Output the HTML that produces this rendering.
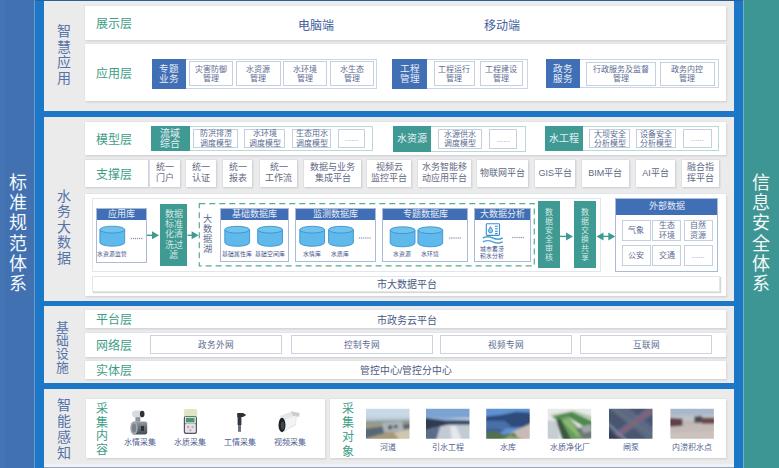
<!DOCTYPE html><html lang="zh-CN"><head><meta charset="utf-8"><style>
*{margin:0;padding:0;box-sizing:border-box}
html,body{width:779px;height:468px;overflow:hidden;background:#1c78c6}
body{position:relative;font-family:"Liberation Sans",sans-serif}
div{position:absolute;white-space:nowrap}
svg{position:absolute;left:0;top:0}
.c{display:flex;align-items:center;justify-content:center;text-align:center}
.wb{background:#fff;box-shadow:0 0 0 0.6px #dcdfe5,1px 1.5px 1.5px rgba(110,120,140,.28)}
.lay{color:#3a9a84;font-size:12px;line-height:12px}
.it{border:1px solid #c5cfe0;color:#5b6b92;font-size:8px;line-height:9px;background:#fff}
.sb{background:#fff;box-shadow:0 0 0 0.6px #d6dae3,1px 1px 1.5px rgba(110,120,140,.35);color:#5f6984;font-size:9px;line-height:11px;top:160.3px;height:26.4px}
.db{border:1px solid #a9bbd8;background:#fff}
.dbh{left:0;top:0;right:0;height:11px;background:#416fb5;color:#e6ecf7;font-size:9px;line-height:11px;text-align:center}
.sm{font-size:5.8px;line-height:7px;color:#3f5088;text-align:center}
.dots{color:#8090a8;font-size:9px;line-height:9px;letter-spacing:-1px}
.tc{background:#3e9a92;color:#e4f0ee;text-align:center;white-space:normal}
.net{top:335.5px;height:18.5px;border:1px solid #ccd2de;background:#fff;color:#5a6a90;font-size:8.6px;line-height:18px;text-align:center}
.ph{top:408.5px;width:43.5px;height:30px}
.pl{font-size:8px;line-height:9px;color:#4f6090;text-align:center;width:60px}
.vt{text-align:center;white-space:normal;word-break:break-all}
</style></head><body>
<div class="" style="left:0px;top:0px;width:34.3px;height:468px;background:#4171b1"></div>
<div class="" style="left:0px;top:0px;width:5px;height:468px;background:#4474b4"></div>
<div class="" style="left:34px;top:0px;width:1.2px;height:468px;background:#6a9ad0"></div>
<div class="vt" style="left:7.00px;top:173.25px;width:22px;font-size:18px;line-height:20.1px;color:#f4f7fb;">标<br>准<br>规<br>范<br>体<br>系</div>
<div class="" style="left:743px;top:0px;width:36px;height:468px;background:#3e9694"></div>
<div class="" style="left:743px;top:0px;width:1px;height:468px;background:#6fb3c0"></div>
<div class="vt" style="left:749.50px;top:173.25px;width:22px;font-size:18px;line-height:20.1px;color:#f4f9f8;">信<br>息<br>安<br>全<br>体<br>系</div>
<div class="" style="left:35px;top:0px;width:708px;height:1px;background:#2b5f95"></div>
<div class="" style="left:43.8px;top:1px;width:690.5px;height:109.7px;background:#ecebec"></div>
<div class="" style="left:43.8px;top:116.6px;width:690.5px;height:184.9px;background:#ecebec"></div>
<div class="" style="left:43.8px;top:306.2px;width:690.5px;height:76.80000000000001px;background:#ecebec"></div>
<div class="" style="left:43.8px;top:389px;width:690.5px;height:74.5px;background:#ecebec"></div>
<div class="" style="left:43.8px;top:463.5px;width:690.5px;height:3.5px;background:#eef2f6"></div>
<div class="" style="left:43.8px;top:467px;width:690.5px;height:1px;background:#9aa4b0"></div>
<div class="vt" style="left:55.00px;top:24.30px;width:18px;font-size:14px;line-height:15.6px;color:#5473a8;">智<br>慧<br>应<br>用</div>
<div class="vt" style="left:55.30px;top:188.50px;width:18px;font-size:14px;line-height:15.6px;color:#5473a8;">水<br>务<br>大<br>数<br>据</div>
<div class="vt" style="left:53.90px;top:320.75px;width:16.8px;font-size:12.8px;line-height:13.3px;color:#5473a8;">基<br>础<br>设<br>施</div>
<div class="vt" style="left:54.80px;top:398.45px;width:18px;font-size:14px;line-height:15.7px;color:#5473a8;">智<br>能<br>感<br>知</div>
<div class="wb" style="left:85px;top:6.4px;width:640.5px;height:33.3px;"></div>
<div style="left:96.2px;top:18.10px;font-size:12px;line-height:12px;color:#3d9d86;">展示层</div>
<div style="left:298.4px;top:19.50px;font-size:12px;line-height:12px;color:#42609e;">电脑端</div>
<div style="left:483.6px;top:19.50px;font-size:12px;line-height:12px;color:#42609e;">移动端</div>
<div class="wb" style="left:85px;top:43.6px;width:640.5px;height:57.8px;"></div>
<div style="left:96.2px;top:67.70px;font-size:12px;line-height:12px;color:#3d9d86;">应用层</div>
<div class="" style="left:151.8px;top:58.8px;width:225px;height:29.8px;border:1px solid #c9d5e8;background:#fff"></div>
<div class="c" style="left:151.8px;top:58.8px;width:34.6px;height:29.8px;background:#416fb5;color:#e8eef8;font-size:9.6px;line-height:9.8px">专题<br>业务</div>
<div class="it c" style="left:189.1px;top:61.1px;width:43.5px;height:25.3px;">灾害防御<br>管理</div>
<div class="it c" style="left:236.2px;top:61.1px;width:44.5px;height:25.3px;">水资源<br>管理</div>
<div class="it c" style="left:283.2px;top:61.1px;width:44.3px;height:25.3px;">水环境<br>管理</div>
<div class="it c" style="left:330.2px;top:61.1px;width:44.2px;height:25.3px;">水生态<br>管理</div>
<div class="" style="left:392.3px;top:58.8px;width:136px;height:29.8px;border:1px solid #c9d5e8;background:#fff"></div>
<div class="c" style="left:392.3px;top:58.8px;width:34.5px;height:29.8px;background:#416fb5;color:#e8eef8;font-size:9.6px;line-height:9.8px">工程<br>管理</div>
<div class="it c" style="left:433.8px;top:61.3px;width:41.1px;height:25.2px;">工程运行<br>管理</div>
<div class="it c" style="left:479.6px;top:61.3px;width:43.7px;height:25.2px;">工程建设<br>管理</div>
<div class="" style="left:545.8px;top:58.6px;width:172.8px;height:29.9px;border:1px solid #c9d5e8;background:#fff"></div>
<div class="c" style="left:545.8px;top:58.6px;width:34.2px;height:29.9px;background:#416fb5;color:#e8eef8;font-size:9.6px;line-height:9.8px">政务<br>服务</div>
<div class="it c" style="left:586.3px;top:61.5px;width:69.4px;height:24.5px;">行政服务及监督<br>管理</div>
<div class="it c" style="left:660.3px;top:61.5px;width:54.4px;height:24.5px;">政务内控<br>管理</div>
<div class="wb" style="left:85px;top:122.3px;width:640.5px;height:32.7px;"></div>
<div style="left:96.2px;top:133.50px;font-size:12px;line-height:12px;color:#3d9d86;">模型层</div>
<div class="" style="left:151.2px;top:125.8px;width:221.8px;height:25.6px;border:1px solid #b9dad4;background:#fff"></div>
<div class="c" style="left:151.2px;top:125.8px;width:38.5px;height:25.6px;background:#3e9a92;color:#e8eef8;font-size:10px;line-height:10px">流域<br>综合</div>
<div class="it c" style="left:193.4px;top:128.9px;width:44.6px;height:19.4px;line-height:9.2px">防洪排涝<br>调度模型</div>
<div class="it c" style="left:244.2px;top:128.9px;width:41px;height:19.4px;line-height:9.2px">水环境<br>调度模型</div>
<div class="it c" style="left:292.3px;top:128.9px;width:38.5px;height:19.4px;line-height:9.2px">生态用水<br>调度模型</div>
<div class="it c" style="left:337.5px;top:128.9px;width:27.8px;height:19.4px;color:#8898b0">......</div>
<div class="" style="left:392.5px;top:125.8px;width:133.5px;height:26.2px;border:1px solid #b9dad4;background:#fff"></div>
<div class="c" style="left:392.5px;top:125.8px;width:38.5px;height:26.2px;background:#3e9a92;color:#e8eef8;font-size:10px;line-height:10px">水资源</div>
<div class="it c" style="left:437.9px;top:129px;width:44.4px;height:20px;line-height:9.2px">水源供水<br>调度模型</div>
<div class="it c" style="left:489.2px;top:129px;width:28.3px;height:20px;color:#8898b0">......</div>
<div class="" style="left:544.8px;top:125.8px;width:173.8px;height:25.7px;border:1px solid #b9dad4;background:#fff"></div>
<div class="c" style="left:544.8px;top:125.8px;width:38.2px;height:25.7px;background:#3e9a92;color:#e8eef8;font-size:10px;line-height:10px">水工程</div>
<div class="it c" style="left:589px;top:129px;width:41px;height:19.4px;line-height:9.2px">大坝安全<br>分析模型</div>
<div class="it c" style="left:636px;top:129px;width:40.2px;height:19.4px;line-height:9.2px">设备安全<br>分析模型</div>
<div class="it c" style="left:682.6px;top:129px;width:29.6px;height:19.4px;color:#8898b0">......</div>
<div class="sb" style="left:84.6px;top:160.3px;width:63.8px;height:26.4px;"></div>
<div style="left:96.2px;top:168.50px;font-size:12px;line-height:12px;color:#3d9d86;">支撑层</div>
<div class="sb c" style="left:150.3px;top:160.3px;width:29.6px;height:26.4px;">统一<br>门户</div>
<div class="sb c" style="left:186.4px;top:160.3px;width:30px;height:26.4px;">统一<br>认证</div>
<div class="sb c" style="left:223.3px;top:160.3px;width:29.2px;height:26.4px;">统一<br>报表</div>
<div class="sb c" style="left:260.2px;top:160.3px;width:37px;height:26.4px;">统一<br>工作流</div>
<div class="sb c" style="left:304.2px;top:160.3px;width:57px;height:26.4px;">数据与业务<br>集成平台</div>
<div class="sb c" style="left:367.4px;top:160.3px;width:44.1px;height:26.4px;">视频云<br>监控平台</div>
<div class="sb c" style="left:418.2px;top:160.3px;width:52.4px;height:26.4px;">水务智能移<br>动应用平台</div>
<div class="sb c" style="left:476.6px;top:160.3px;width:51.8px;height:26.4px;">物联网平台</div>
<div class="sb c" style="left:535.4px;top:160.3px;width:39.8px;height:26.4px;">GIS平台</div>
<div class="sb c" style="left:582px;top:160.3px;width:46.7px;height:26.4px;">BIM平台</div>
<div class="sb c" style="left:635.8px;top:160.3px;width:39.5px;height:26.4px;">AI平台</div>
<div class="sb c" style="left:682.4px;top:160.3px;width:36.7px;height:26.4px;">融合指<br>挥平台</div>
<div class="wb" style="left:85px;top:193.8px;width:641px;height:102px;"></div>
<div class="" style="left:91.6px;top:197.5px;width:509px;height:74px;border:1px solid #e2e6ec"></div>
<div class="" style="left:91.6px;top:275.6px;width:628px;height:16.3px;border:1px solid #e2e6ec;box-shadow:1px 1px 1px rgba(110,120,140,.3)"></div>
<div style="left:377px;top:280.00px;font-size:10px;line-height:10px;color:#4a5a80;">市大数据平台</div>
<div class="db" style="left:96px;top:208px;width:51px;height:54.7px;"><div class="dbh">应用库</div></div>
<div class="sm" style="left:96px;top:251px;width:32px">水资源监管</div>
<div class="db" style="left:220.1px;top:207.8px;width:69.2px;height:53.8px;"><div class="dbh">基础数据库</div></div>
<div class="db" style="left:295.1px;top:207.8px;width:81.1px;height:54px;"><div class="dbh">监测数据库</div></div>
<div class="db" style="left:382px;top:207.8px;width:86.1px;height:54.2px;"><div class="dbh">专题数据库</div></div>
<div class="db" style="left:473.7px;top:208.2px;width:57.3px;height:54px;"><div class="dbh">大数据分析</div></div>
<div class="sm" style="left:221px;top:250.5px;width:32px">基础属性库</div>
<div class="sm" style="left:253.8px;top:250.5px;width:32px">基础空间库</div>
<div class="sm" style="left:297.5px;top:250.5px;width:28px">水情库</div>
<div class="sm" style="left:326px;top:250.5px;width:28px">水质库</div>
<div class="sm" style="left:388px;top:250.5px;width:28px">水资源</div>
<div class="sm" style="left:416px;top:250.5px;width:28px">水环境</div>
<div class="sm" style="left:477px;top:246px;width:30px;line-height:7px">城市蓄涝<br>积水分析</div>
<div class="tc" style="left:160.2px;top:203.6px;width:27px;height:62.2px;font-size:9px;line-height:10.3px;padding-top:5.3px;color:#d4e8e4">数据<br>标准<br>化清<br>洗过<br>滤</div>
<div class="vt" style="left:200.70px;top:215.15px;width:13.2px;font-size:9.2px;line-height:9.9px;color:#5a6a8e;">大<br>数<br>据<br>湖</div>
<div class="tc" style="left:537.8px;top:200.8px;width:22.1px;height:67.6px;font-size:8px;line-height:9.1px;padding-top:7px;color:#d4e8e4">数<br>据<br>安<br>全<br>审<br>核</div>
<div class="tc" style="left:574.3px;top:200.8px;width:22px;height:67.6px;font-size:8px;line-height:9.1px;padding-top:7px;color:#d4e8e4">数<br>据<br>交<br>换<br>共<br>享</div>
<div class="db" style="left:615.3px;top:198px;width:103.2px;height:74.2px;"><div class="dbh" style="height:15.5px;line-height:15.5px;font-size:9px">外部数据</div></div>
<div class="it c" style="left:621.5px;top:220.2px;width:29px;height:20.7px;font-size:8px;">气象</div>
<div class="it c" style="left:652.2px;top:220.2px;width:29px;height:20.7px;font-size:8px;line-height:9.2px">生态<br>环境</div>
<div class="it c" style="left:683.5px;top:220.2px;width:29px;height:20.7px;font-size:8px;line-height:9.2px">自然<br>资源</div>
<div class="it c" style="left:621.5px;top:245.3px;width:29px;height:20.7px;font-size:8px;">公安</div>
<div class="it c" style="left:652.2px;top:245.3px;width:29px;height:20.7px;font-size:8px;">交通</div>
<div class="it c" style="left:683.5px;top:245.3px;width:29px;height:20.7px;font-size:8px;color:#8898b0">......</div>
<svg width="779" height="468" viewBox="0 0 779 468"><defs><g id="cy"><path d="M0.6,4 L0.6,16.8 A12.4,3.8 0 0 0 25.4,16.8 L25.4,4" fill="#5fb9eb" stroke="#3d92cc" stroke-width="0.9"/><ellipse cx="13" cy="4" rx="12.4" ry="3.4" fill="#70c3ef" stroke="#3d92cc" stroke-width="0.9"/></g><path id="ah" d="M0,-4 L7,0 L0,4 Z"/></defs><use href="#cy" x="99.3" y="225.6"/><use href="#cy" x="224.2" y="225.7"/><use href="#cy" x="257.1" y="225.7"/><use href="#cy" x="299.2" y="225.7"/><use href="#cy" x="328" y="225.7"/><use href="#cy" x="389.6" y="226.2"/><use href="#cy" x="417.3" y="226.2"/><g fill="#3e9a92" stroke="#3e9a92"><line x1="147" y1="235.3" x2="153" y2="235.3" stroke-width="1.4"/><use href="#ah" x="152" y="235.3" stroke="none"/><line x1="187.5" y1="235.3" x2="193" y2="235.3" stroke-width="1.4"/><use href="#ah" x="191.6" y="235.3" stroke="none"/><line x1="560" y1="236.4" x2="567" y2="236.4" stroke-width="1.4"/><use href="#ah" x="566" y="236.4" stroke="none"/><line x1="602" y1="236.4" x2="609" y2="236.4" stroke-width="1.4"/><use href="#ah" x="608.3" y="236.4" stroke="none"/><path d="M596.5,236.4 L603.5,232.4 L603.5,240.4 Z" stroke="none"/></g><rect x="199.3" y="203.6" width="335" height="62.3" fill="none" stroke="#52ad94" stroke-width="1.2" stroke-dasharray="6 4"/><g fill="none" stroke="#3c8fcb" stroke-width="1.1"><rect x="486.3" y="223.8" width="13.2" height="11.6" rx="0.8"/><path d="M490.5,226.6 Q492.6,229.6 492.6,230.8 A2.1,2.1 0 0 1 488.4,230.8 Q488.4,229.6 490.5,226.6Z" fill="#8fcbee" stroke-width="0.9"/><line x1="495" y1="226.3" x2="497.8" y2="226.3"/><line x1="495" y1="228.8" x2="497.8" y2="228.8"/><line x1="495" y1="231.3" x2="497.8" y2="231.3"/><line x1="495" y1="233.6" x2="497.8" y2="233.6"/></g><g fill="none" stroke="#4aa6dc" stroke-width="1.4"><path d="M482.8,238 Q487.8,235.6 492.8,238 T502.8,238"/><path d="M482.8,241.8 Q487.8,239.4 492.8,241.8 T502.8,241.8"/></g><circle cx="131.30" cy="238.5" r="0.65" fill="#7d8ca6"/><circle cx="133.40" cy="238.5" r="0.65" fill="#7d8ca6"/><circle cx="135.50" cy="238.5" r="0.65" fill="#7d8ca6"/><circle cx="137.60" cy="238.5" r="0.65" fill="#7d8ca6"/><circle cx="139.70" cy="238.5" r="0.65" fill="#7d8ca6"/><circle cx="141.80" cy="238.5" r="0.65" fill="#7d8ca6"/><circle cx="359.60" cy="238" r="0.65" fill="#7d8ca6"/><circle cx="361.70" cy="238" r="0.65" fill="#7d8ca6"/><circle cx="363.80" cy="238" r="0.65" fill="#7d8ca6"/><circle cx="365.90" cy="238" r="0.65" fill="#7d8ca6"/><circle cx="368.00" cy="238" r="0.65" fill="#7d8ca6"/><circle cx="370.10" cy="238" r="0.65" fill="#7d8ca6"/><circle cx="449.80" cy="238" r="0.65" fill="#7d8ca6"/><circle cx="451.90" cy="238" r="0.65" fill="#7d8ca6"/><circle cx="454.00" cy="238" r="0.65" fill="#7d8ca6"/><circle cx="456.10" cy="238" r="0.65" fill="#7d8ca6"/><circle cx="458.20" cy="238" r="0.65" fill="#7d8ca6"/><circle cx="460.30" cy="238" r="0.65" fill="#7d8ca6"/><circle cx="512.80" cy="237.5" r="0.65" fill="#7d8ca6"/><circle cx="514.90" cy="237.5" r="0.65" fill="#7d8ca6"/><circle cx="517.00" cy="237.5" r="0.65" fill="#7d8ca6"/><circle cx="519.10" cy="237.5" r="0.65" fill="#7d8ca6"/><circle cx="521.20" cy="237.5" r="0.65" fill="#7d8ca6"/><circle cx="523.30" cy="237.5" r="0.65" fill="#7d8ca6"/></svg>
<div class="wb" style="left:85px;top:309.7px;width:641px;height:18.2px;"></div>
<div style="left:96.2px;top:313.50px;font-size:12px;line-height:12px;color:#3d9d86;">平台层</div>
<div style="left:377px;top:315.70px;font-size:10px;line-height:10px;color:#4a5a80;">市政务云平台</div>
<div class="wb" style="left:85px;top:332.7px;width:641px;height:24.3px;"></div>
<div style="left:96.2px;top:339.50px;font-size:12px;line-height:12px;color:#3d9d86;">网络层</div>
<div class="net" style="left:150px;top:335.4px;width:132.2px;height:18.5px;">政务外网</div>
<div class="net" style="left:290.6px;top:335.4px;width:142.6px;height:18.5px;">控制专网</div>
<div class="net" style="left:440.3px;top:335.4px;width:131.6px;height:18.5px;">视频专网</div>
<div class="net" style="left:580.4px;top:335.4px;width:131.6px;height:18.5px;">互联网</div>
<div class="wb" style="left:85px;top:360.8px;width:641px;height:18.5px;"></div>
<div style="left:96.2px;top:364.80px;font-size:12px;line-height:12px;color:#3d9d86;">实体层</div>
<div style="left:359.5px;top:365.80px;font-size:9.8px;line-height:9.8px;color:#4a5a80;">管控中心/管控分中心</div>
<div class="wb" style="left:85.6px;top:398.9px;width:239.6px;height:59px;"></div>
<div class="vt" style="left:94.00px;top:403.30px;width:16px;font-size:12px;line-height:13.6px;color:#3d9d86;">采<br>集<br>内<br>容</div>
<div class="wb" style="left:330.4px;top:399px;width:395.8px;height:59px;"></div>
<div class="vt" style="left:339.50px;top:402.25px;width:16px;font-size:12px;line-height:14.1px;color:#3d9d86;">采<br>集<br>对<br>象</div>
<div class="pl" style="left:110.1px;top:438.2px">水情采集</div>
<div class="pl" style="left:159.6px;top:438.2px">水质采集</div>
<div class="pl" style="left:209.7px;top:438.2px">工情采集</div>
<div class="pl" style="left:259.7px;top:438.2px">视频采集</div>
<svg width="779" height="468" viewBox="0 0 779 468"><defs><filter id="bl" x="-20%" y="-20%" width="140%" height="140%"><feGaussianBlur stdDeviation="0.45"/></filter><filter id="bl2" x="-10%" y="-10%" width="120%" height="120%"><feGaussianBlur stdDeviation="1"/></filter><linearGradient id="gm" x1="0" y1="0" x2="0" y2="1"><stop offset="0" stop-color="#9aa0a8"/><stop offset="0.45" stop-color="#6a7078"/><stop offset="1" stop-color="#4a5058"/></linearGradient></defs><g filter="url(#bl)"><rect x="132" y="410.5" width="12.3" height="7" rx="3.5" fill="#d8dce0"/><ellipse cx="142.2" cy="414" rx="2.3" ry="3.3" fill="#2e3238"/><rect x="135.4" y="417.2" width="4.9" height="4.5" fill="#8d939a"/><rect x="132" y="421.5" width="15.2" height="13" rx="2" fill="url(#gm)"/><ellipse cx="134" cy="428" rx="3.8" ry="6.6" fill="#a4aab1"/><ellipse cx="134" cy="428" rx="2.2" ry="4.6" fill="#7c828a"/><rect x="141" y="426" width="3" height="5" fill="#2e3238"/><rect x="183.8" y="408.9" width="13.5" height="8" rx="2" fill="#e2e4c4"/><rect x="183.8" y="416" width="13.2" height="18" rx="2" fill="#4f565e"/><rect x="185" y="416.8" width="10.8" height="6.6" fill="#f2f4f2"/><rect x="185.8" y="417.8" width="8.8" height="4.6" fill="#4a9a6c"/><rect x="185" y="423.5" width="10.8" height="9.3" rx="1.5" fill="#e4e2ea"/><circle cx="188.2" cy="427" r="1.2" fill="#d49aa6"/><circle cx="192.6" cy="427" r="1.2" fill="#b6b8c4"/><circle cx="190.4" cy="430.3" r="1.1" fill="#c9a0aa"/><path d="M237.2,412.9 L243,412.9 L246.3,415 L243,417 L237.2,417 Z" fill="#2c3038"/><rect x="237.6" y="417" width="3.8" height="8" fill="#343842"/><rect x="238" y="425" width="3" height="6.8" fill="#6a707a"/><path d="M280,416 L291.5,411.5 L297,413.5 L296,425 L284,432 Z" fill="#e4e6e8"/><path d="M291,411.3 L299.6,413 L299,416.7 L293,416 Z" fill="#c9cdd2"/><path d="M284,420 L295.5,415.5 L295.5,424 L285,430.5 Z" fill="#f2f3f4"/><ellipse cx="282" cy="425" rx="3.5" ry="7.2" fill="#1f2328"/><ellipse cx="282.6" cy="425.5" rx="1.8" ry="4" fill="#40454c"/></g><svg x="366" y="408.8" width="43.5" height="30" viewBox="0 0 43.5 30" overflow="hidden"><g filter="url(#bl2)"><rect x="-2" y="-2" width="48" height="34" fill="#bccddb"/><rect x="-2" y="-2" width="48" height="10" fill="#c9d8e6"/><path d="M-2,12 L46,11 L46,17 L-2,18 Z" fill="#8e9a98"/><path d="M-2,16 L46,14 L46,32 L-2,32 Z" fill="#a69a78"/><path d="M-2,20 L30,16 L46,15 L46,19 L20,24 L-2,30 Z" fill="#56687a"/><path d="M16,14 L36,12 L38,22 L18,24 Z" fill="#aab4b8"/><path d="M22,17 L26,16.5 L26.5,20 L22.5,21 Z" fill="#4a5660"/><path d="M28,16.5 L31,16 L31.5,19 L28.5,19.5 Z" fill="#3a444c"/><path d="M28,24 L46,20 L46,32 L34,32 Z" fill="#cfc6b0"/></g></svg><svg x="426" y="408.8" width="43.5" height="30" viewBox="0 0 43.5 30" overflow="hidden"><g filter="url(#bl2)"><rect x="-2" y="-2" width="48" height="34" fill="#d2d8de"/><rect x="-2" y="-2" width="48" height="11" fill="#7aa2d2"/><path d="M-2,8 L46,11 L46,15 L-2,17 Z" fill="#8aaad0"/><path d="M-2,9 L20,12 L46,12 L46,16 L22,16 L-2,22 Z" fill="#2e3a52"/><path d="M-2,22 L22,16 L46,16 L46,32 L-2,32 Z" fill="#c2cad4"/><path d="M-2,22 L14,18 L10,32 L-2,32 Z" fill="#5a6c88"/><path d="M24,17 L30,17 L36,32 L26,32 Z" fill="#e4e8ec"/></g></svg><svg x="486.2" y="408.8" width="43.5" height="30" viewBox="0 0 43.5 30" overflow="hidden"><g filter="url(#bl2)"><rect x="-2" y="-2" width="48" height="34" fill="#5f92d2"/><path d="M-2,8 L16,6 L30,3 L46,4 L46,18 L-2,20 Z" fill="#2d4c7c"/><path d="M-2,12 L18,12 L26,18 L-2,22 Z" fill="#4a6ea8"/><path d="M12,30 L46,14 L46,32 Z" fill="#c9bab4"/><path d="M-2,20 L20,20 L10,26 L-2,26 Z" fill="#3c5e96"/><path d="M-2,24 L8,22 L18,26 L28,24 L34,32 L-2,32 Z" fill="#52704e"/><path d="M14,32 L24,26 L30,28 L40,32 Z" fill="#8aa070"/></g></svg><svg x="547.7" y="408.8" width="43.5" height="30" viewBox="0 0 43.5 30" overflow="hidden"><g filter="url(#bl2)"><rect x="-2" y="-2" width="48" height="34" fill="#e6eae8"/><path d="M2,6 L26,2 L46,8 L46,12 L28,5 L8,9 Z" fill="#b8c8b2"/><path d="M4,8 L24,3 L46,13 L46,24 L20,8 L9,11 Z" fill="#4e8a4c"/><path d="M9,11 L20,8 L42,30 L24,32 Z" fill="#679e5c"/><path d="M14,12 L20,10 L36,26 L30,28 Z" fill="#8ab874"/><path d="M8,11 L13,10 L24,32 L15,32 Z" fill="#3a5842"/><path d="M28,20 L46,15 L46,30 L36,31 Z" fill="#6c7876"/><path d="M33,18 L43,15.5 L45,22 L36,24.5 Z" fill="#9ea8aa"/><path d="M-2,12 L9,12 L12,32 L-2,32 Z" fill="#c6ced2"/></g></svg><svg x="609" y="408.8" width="43.5" height="30" viewBox="0 0 43.5 30" overflow="hidden"><g filter="url(#bl2)"><rect x="-2" y="-2" width="48" height="34" fill="#4a5670"/><path d="M-2,-2 L18,-2 L46,20 L46,32 L40,32 Z" fill="#5d6884"/><path d="M-2,30 L40,-2 L46,-2 L46,4 L6,32 Z" fill="#6a6888"/><path d="M2,32 L44,0" stroke="#a05a5a" stroke-width="1.4"/><path d="M4,0 L46,28" stroke="#5c8a6a" stroke-width="1"/><path d="M-2,14 L18,32" stroke="#7a86a8" stroke-width="2"/><path d="M-2,20 L14,32 L-2,32 Z" fill="#36405a"/></g></svg><svg x="670.4" y="408.8" width="43.5" height="30" viewBox="0 0 43.5 30" overflow="hidden"><g filter="url(#bl2)"><rect x="-2" y="-2" width="48" height="34" fill="#c0b6b4"/><rect x="-2" y="-2" width="48" height="9" fill="#a8b8cc"/><path d="M-2,7 L46,6 L46,12 L-2,12 Z" fill="#c0c2c8"/><path d="M-2,9 L12,10 L12,17 L8,19 L-2,18 Z" fill="#5e4246"/><path d="M24,8 L30,7 L34,10 L34,14 L24,14 Z" fill="#4a4c50"/><path d="M30,9 L46,9 L46,15 L32,15 Z" fill="#6a4a4c"/><path d="M-2,18 L46,15 L46,32 L-2,32 Z" fill="#c4bab6"/><path d="M-2,24 L46,22 L46,32 L-2,32 Z" fill="#cbc2bc"/></g></svg></svg>
<div class="pl" style="left:357.8px;top:442.5px">河道</div>
<div class="pl" style="left:417.8px;top:442.5px">引水工程</div>
<div class="pl" style="left:477.9px;top:442.5px">水库</div>
<div class="pl" style="left:539.5px;top:442.5px">水质净化厂</div>
<div class="pl" style="left:600.8px;top:442.5px">闸泵</div>
<div class="pl" style="left:662.1px;top:442.5px">内涝积水点</div>
</body></html>
